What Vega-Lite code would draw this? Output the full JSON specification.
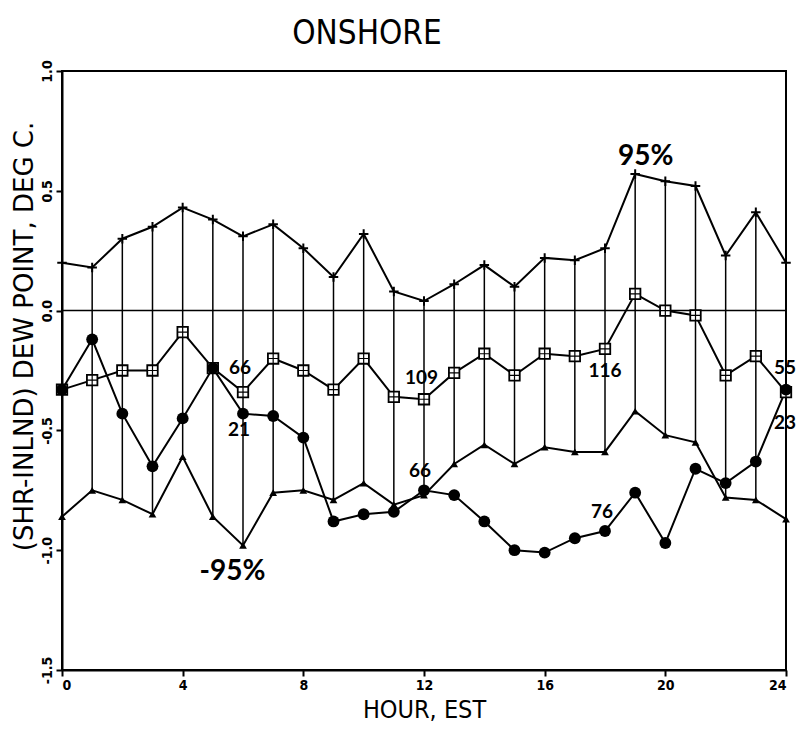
{
  "$schema": "https://vega.github.io/schema/vega-lite/v6.json",
  "autosize": {"type": "none"},
  "width": 724,
  "height": 599,
  "padding": {"left": 62, "top": 71, "right": 10, "bottom": 65},
  "background": "white",
  "title": {
    "text": "ONSHORE",
    "font": "DejaVu Sans Condensed, Liberation Sans Narrow, sans-serif",
    "fontSize": 33,
    "fontWeight": "normal",
    "color": "black",
    "anchor": "middle",
    "dx": -57,
    "offset": 9
  },
  "config": {
    "view": {"stroke": "black", "strokeWidth": 2},
    "axis": {
      "grid": false,
      "domainColor": "black",
      "domainWidth": 2,
      "tickColor": "black",
      "tickWidth": 2,
      "tickSize": 6,
      "labelColor": "black",
      "titleColor": "black",
      "labelFont": "DejaVu Sans Condensed, Liberation Sans Narrow, sans-serif",
      "titleFont": "DejaVu Sans Condensed, Liberation Sans Narrow, sans-serif",
      "labelFontWeight": "bold",
      "titleFontWeight": "normal"
    }
  },
  "data": {
    "values": [
      {"hour": 0, "p95": 0.20, "median": -0.33, "mean": -0.33, "p05": -0.86},
      {"hour": 1, "p95": 0.18, "median": -0.29, "mean": -0.12, "p05": -0.75},
      {"hour": 2, "p95": 0.30, "median": -0.25, "mean": -0.43, "p05": -0.79},
      {"hour": 3, "p95": 0.35, "median": -0.25, "mean": -0.65, "p05": -0.85},
      {"hour": 4, "p95": 0.43, "median": -0.09, "mean": -0.45, "p05": -0.61},
      {"hour": 5, "p95": 0.38, "median": -0.24, "mean": -0.24, "p05": -0.86},
      {"hour": 6, "p95": 0.31, "median": -0.34, "mean": -0.43, "p05": -0.98},
      {"hour": 7, "p95": 0.36, "median": -0.20, "mean": -0.44, "p05": -0.76},
      {"hour": 8, "p95": 0.26, "median": -0.25, "mean": -0.53, "p05": -0.75},
      {"hour": 9, "p95": 0.14, "median": -0.33, "mean": -0.88, "p05": -0.79},
      {"hour": 10, "p95": 0.32, "median": -0.20, "mean": -0.85, "p05": -0.72},
      {"hour": 11, "p95": 0.08, "median": -0.36, "mean": -0.84, "p05": -0.81},
      {"hour": 12, "p95": 0.04, "median": -0.37, "mean": -0.75, "p05": -0.77},
      {"hour": 13, "p95": 0.11, "median": -0.26, "mean": -0.77, "p05": -0.64},
      {"hour": 14, "p95": 0.19, "median": -0.18, "mean": -0.88, "p05": -0.56},
      {"hour": 15, "p95": 0.10, "median": -0.27, "mean": -1.00, "p05": -0.64},
      {"hour": 16, "p95": 0.22, "median": -0.18, "mean": -1.01, "p05": -0.57},
      {"hour": 17, "p95": 0.21, "median": -0.19, "mean": -0.95, "p05": -0.59},
      {"hour": 18, "p95": 0.26, "median": -0.16, "mean": -0.92, "p05": -0.59},
      {"hour": 19, "p95": 0.57, "median": 0.07, "mean": -0.76, "p05": -0.42},
      {"hour": 20, "p95": 0.54, "median": 0.00, "mean": -0.97, "p05": -0.52},
      {"hour": 21, "p95": 0.52, "median": -0.02, "mean": -0.66, "p05": -0.55},
      {"hour": 22, "p95": 0.23, "median": -0.27, "mean": -0.72, "p05": -0.78},
      {"hour": 23, "p95": 0.41, "median": -0.19, "mean": -0.63, "p05": -0.79},
      {"hour": 24, "p95": 0.20, "median": -0.34, "mean": -0.33, "p05": -0.87}
    ]
  },
  "encoding": {
    "x": {
      "field": "hour",
      "type": "quantitative",
      "scale": {"domain": [0, 24], "nice": false},
      "axis": {
        "values": [0, 4, 8, 12, 16, 20, 24],
        "title": "HOUR, EST",
        "labelFontSize": 14,
        "titleFontSize": 25,
        "labelPadding": 2,
        "titlePadding": 5
      }
    }
  },
  "layer": [
    {
      "mark": {"type": "rule", "color": "black", "strokeWidth": 1.5},
      "encoding": {
        "y": {
          "field": "p95",
          "type": "quantitative",
          "scale": {"domain": [-1.5, 1.0], "nice": false, "zero": false},
          "axis": {
            "values": [-1.5, -1.0, -0.5, 0, 0.5, 1.0],
            "labelExpr": "datum.value < 0 ? '-' + format(-datum.value, '.1f') : format(datum.value, '.1f')",
            "labelAngle": -90,
            "labelAlign": "center",
            "labelBaseline": "bottom",
            "labelFontSize": 14,
            "labelPadding": 2,
            "title": "(SHR-INLND) DEW POINT, DEG C.",
            "titleFont": "DejaVu Sans, sans-serif",
            "titleFontSize": 26,
            "titlePadding": 3,
            "titleY": 265
          }
        },
        "y2": {"field": "p05"}
      }
    },
    {
      "data": {"values": [{"zero": 0}]},
      "mark": {"type": "rule", "color": "black", "strokeWidth": 1.5},
      "encoding": {"x": {"value": 0}, "x2": {"value": 724}, "y": {"field": "zero", "type": "quantitative"}}
    },
    {
      "mark": {"type": "line", "color": "black", "strokeWidth": 2},
      "encoding": {"y": {"field": "p95", "type": "quantitative"}}
    },
    {
      "mark": {"type": "line", "color": "black", "strokeWidth": 2},
      "encoding": {"y": {"field": "median", "type": "quantitative"}}
    },
    {
      "mark": {"type": "line", "color": "black", "strokeWidth": 2},
      "encoding": {"y": {"field": "mean", "type": "quantitative"}}
    },
    {
      "mark": {"type": "line", "color": "black", "strokeWidth": 2},
      "encoding": {"y": {"field": "p05", "type": "quantitative"}}
    },
    {
      "mark": {
        "type": "point",
        "shape": "M-1,0L1,0M0,-1L0,1",
        "filled": false,
        "stroke": "black",
        "strokeWidth": 2,
        "size": 90,
        "opacity": 1
      },
      "encoding": {"y": {"field": "p95", "type": "quantitative"}}
    },
    {
      "mark": {
        "type": "point",
        "shape": "M-1,-1L1,-1L1,1L-1,1Z",
        "filled": true,
        "fill": "white",
        "stroke": "black",
        "strokeWidth": 1.8,
        "size": 110,
        "opacity": 1
      },
      "encoding": {"y": {"field": "median", "type": "quantitative"}}
    },
    {
      "mark": {
        "type": "point",
        "shape": "M-1,0L1,0M0,-1L0,1",
        "filled": false,
        "stroke": "black",
        "strokeWidth": 1.2,
        "size": 110,
        "opacity": 1
      },
      "encoding": {"y": {"field": "median", "type": "quantitative"}}
    },
    {
      "mark": {"type": "point", "shape": "circle", "filled": true, "color": "black", "size": 140, "opacity": 1},
      "encoding": {"y": {"field": "mean", "type": "quantitative"}}
    },
    {
      "mark": {"type": "point", "shape": "triangle-up", "filled": true, "color": "black", "size": 60, "opacity": 1},
      "encoding": {"y": {"field": "p05", "type": "quantitative"}}
    },
    {
      "data": {
        "values": [
          {"hour": 19.35, "y": 0.64, "label": "95%"},
          {"hour": 5.65, "y": -1.09, "label": "-95%"}
        ]
      },
      "mark": {"type": "text", "font": "Lato, DejaVu Sans, sans-serif", "fontWeight": "bold", "fontSize": 28, "color": "black", "align": "center", "baseline": "middle"},
      "encoding": {
        "y": {"field": "y", "type": "quantitative"},
        "text": {"field": "label"}
      }
    },
    {
      "data": {
        "values": [
          {"hour": 5.9, "y": -0.24, "label": "66"},
          {"hour": 5.87, "y": -0.50, "label": "21"},
          {"hour": 11.92, "y": -0.28, "label": "109"},
          {"hour": 11.87, "y": -0.67, "label": "66"},
          {"hour": 18.0, "y": -0.25, "label": "116"},
          {"hour": 17.9, "y": -0.84, "label": "76"},
          {"hour": 23.97, "y": -0.24, "label": "55"},
          {"hour": 23.97, "y": -0.47, "label": "23"}
        ]
      },
      "mark": {"type": "text", "font": "Lato, DejaVu Sans, sans-serif", "fontWeight": "bold", "fontSize": 19, "color": "black", "align": "center", "baseline": "middle"},
      "encoding": {
        "y": {"field": "y", "type": "quantitative"},
        "text": {"field": "label"}
      }
    }
  ]
}
